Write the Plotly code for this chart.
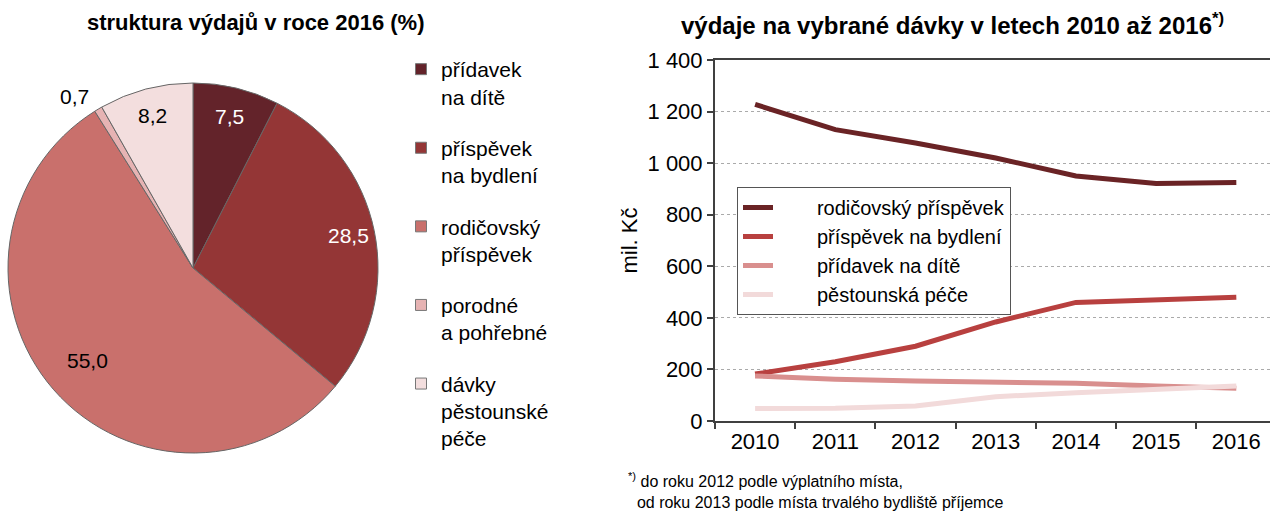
import numpy as np
import plotly.graph_objects as go

# ---- data ----
pie_labels = ["přídavek<br>na dítě", "příspěvek<br>na bydlení", "rodičovský<br>příspěvek",
              "porodné<br>a pohřebné", "dávky<br>pěstounské<br>péče"]
pie_values = [7.5, 28.5, 55.0, 0.7, 8.2]
pie_text = ["7,5", "28,5", "55,0", "0,7", "8,2"]
pie_colors = ["#63232a", "#943636", "#c9706c", "#e6b3b3", "#f3dede"]
pie_text_colors = ["white", "white", "black", "black", "black"]
pie_label_radius = [0.84, 0.86, 0.76, 1.08, 0.85]   # label distance as fraction of radius

years = ["2010", "2011", "2012", "2013", "2014", "2015", "2016"]
rodicovsky = [1228, 1130, 1078, 1020, 950, 921, 925]
bydleni = [182, 230, 290, 384, 460, 472, 480]
pridavek = [175, 162, 155, 151, 146, 136, 127]
pestounska = [48, 49, 58, 94, 110, 125, 136]
line_names = ["rodičovský příspěvek", "příspěvek na bydlení", "přídavek na dítě", "pěstounská péče"]
line_series = [rodicovsky, bydleni, pridavek, pestounska]
line_colors = ["#6a2325", "#b8403f", "#d98f8e", "#f2dada"]

ytick_vals = [0, 200, 400, 600, 800, 1000, 1200, 1400]
ytick_text = ["0", "200", "400", "600", "800", "1 000", "1 200", "1 400"]

FONT = "Liberation Sans, Arial, sans-serif"
W, H = 1270, 511

# pie geometry (pixels)
PCX, PCY, PR = 193, 268, 185

fig = go.Figure()

fig.add_trace(go.Pie(
    values=pie_values, labels=pie_labels, textinfo="none",
    marker=dict(colors=pie_colors, line=dict(color="#666666", width=1)),
    sort=False, direction="clockwise", rotation=0,
    domain=dict(x=[(PCX - PR) / W, (PCX + PR) / W], y=[1 - (PCY + PR) / H, 1 - (PCY - PR) / H]),
    showlegend=False, hoverinfo="skip",
))

# pie value labels placed at the angular middle of each slice
vals = np.array(pie_values, dtype=float)
cum = np.cumsum(vals) - vals / 2
theta = cum / vals.sum() * 2 * np.pi
annotations = []
for t, th, f, col in zip(pie_text, theta, pie_label_radius, pie_text_colors):
    px = PCX + f * PR * np.sin(th)
    py = PCY - f * PR * np.cos(th)
    outside = f > 1
    annotations.append(dict(
        text=t, x=px / W, y=1 - py / H, xref="paper", yref="paper", showarrow=False,
        font=dict(size=21, color=col), xanchor="right" if outside else "center",
        yanchor="middle",
    ))

# pie legend via marker-only entries
for name, col in zip(pie_labels, pie_colors):
    fig.add_trace(go.Scatter(
        x=[None], y=[None], mode="markers", name=name,
        marker=dict(symbol="square", size=11, color=col, line=dict(color="#777777", width=1)),
        legend="legend", legendgroup=name, xaxis="x", yaxis="y",
    ))

PAD = "\u00a0" * 7  # widen gap between legend line sample and its text
for name, ys, col in zip(line_names, line_series, line_colors):
    fig.add_trace(go.Scatter(
        x=years, y=ys, mode="lines", name=PAD + name,
        line=dict(color=col, width=5), legend="legend2",
    ))

annotations += [
    dict(text="<b>struktura výdajů v roce 2016 (%)</b>", x=255 / W, y=1 - 22 / H,
         xref="paper", yref="paper", showarrow=False, font=dict(size=22),
         xanchor="center", yanchor="middle"),
    dict(text="<b>výdaje na vybrané dávky v letech 2010 až 2016<sup>*)</sup></b>",
         x=953 / W, y=1 - 24 / H, xref="paper", yref="paper", showarrow=False,
         font=dict(size=24), xanchor="center", yanchor="middle"),
    dict(text="<sup>*)</sup> do roku 2012 podle výplatního místa,<br>  od roku 2013 podle místa trvalého bydliště příjemce",
         x=626 / W, y=1 - 468 / H, xref="paper", yref="paper", showarrow=False,
         font=dict(size=16), xanchor="left", yanchor="top", align="left"),
]

fig.update_layout(
    width=W, height=H, margin=dict(l=0, r=0, t=0, b=0),
    paper_bgcolor="white", plot_bgcolor="white",
    font=dict(family=FONT, size=21, color="black"),
    xaxis=dict(
        domain=[715 / W, 1.0], type="category", range=[-0.5, 6.42], automargin=False,
        showline=True, linecolor="#404040", linewidth=2, mirror=True,
        ticks="outside", tickson="boundaries", ticklen=6, tickcolor="#404040", tickwidth=2,
        showgrid=False, tickfont=dict(size=22),
    ),
    yaxis=dict(
        domain=[1 - 421 / H, 1 - 60 / H], range=[0, 1400], automargin=False,
        tickvals=ytick_vals, ticktext=ytick_text,
        showline=True, linecolor="#404040", linewidth=2,
        ticks="outside", ticklen=6, tickcolor="#404040", tickwidth=2,
        showgrid=True, gridcolor="#aaaaaa", griddash="dot", gridwidth=1,
        zeroline=False, tickfont=dict(size=22),
        title=dict(text="mil. Kč", font=dict(size=22), standoff=4),
    ),
    legend=dict(
        x=401 / W, y=1 - 49 / H, xanchor="left", yanchor="top",
        font=dict(size=21), tracegroupgap=21, valign="top",
        bgcolor="rgba(0,0,0,0)", itemwidth=30,
    ),
    legend2=dict(
        x=737 / W, y=1 - 187 / H, xanchor="left", yanchor="top",
        font=dict(size=20), bgcolor="white", bordercolor="#555555", borderwidth=1,
        tracegroupgap=0,
    ),
    annotations=annotations,
)

fig.write_html("out.html", config={"displayModeBar": False},
               post_script="document.body.style.margin='0px';")
